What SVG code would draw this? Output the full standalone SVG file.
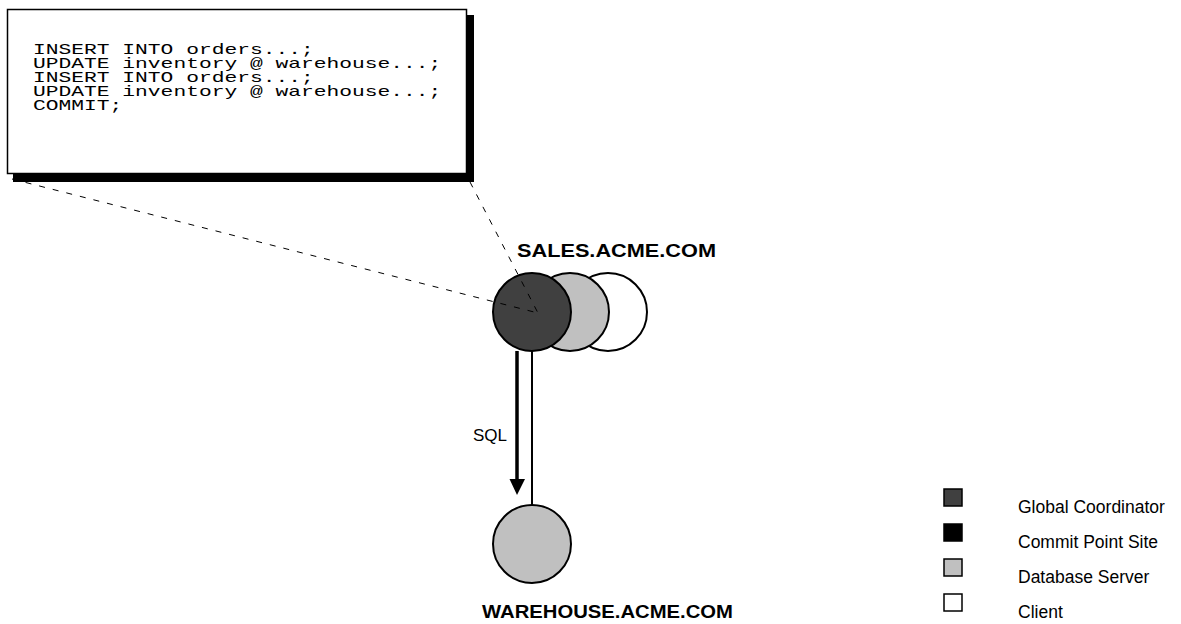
<svg xmlns="http://www.w3.org/2000/svg" width="1181" height="624" viewBox="0 0 1181 624">
<style>
.code{font-family:"Liberation Mono","Courier New",monospace;font-size:14px;fill:#000}
.lbl{font-family:"Liberation Sans",Arial,sans-serif;font-size:17.5px;fill:#000}
.sql{font-family:"Liberation Sans",Arial,sans-serif;font-size:17px;fill:#000}
.site{font-family:"Liberation Sans",Arial,sans-serif;font-size:18px;font-weight:bold;fill:#000}
.dash{stroke:#000;stroke-width:1;stroke-dasharray:6 8;fill:none}
.sw{stroke:#000;stroke-width:1.5}
.node{stroke:#000;stroke-width:2}
</style>
<g id="code-box">
<rect x="13" y="15" width="461" height="167" fill="#000"/>
<rect x="7.5" y="9.5" width="459" height="164" fill="#fff" stroke="#000" stroke-width="1.5"/>
<g transform="translate(33,0) scale(1.52,1)">
<text class="code" x="0" y="54">INSERT INTO orders...;</text>
<text class="code" x="0" y="68">UPDATE inventory @ warehouse...;</text>
<text class="code" x="0" y="82">INSERT INTO orders...;</text>
<text class="code" x="0" y="96">UPDATE inventory @ warehouse...;</text>
<text class="code" x="0" y="110">COMMIT;</text>
</g>
</g>
<g id="sales">
<circle class="node" cx="608" cy="312" r="39" fill="#fff"/>
<circle class="node" cx="570" cy="312" r="39" fill="#c0c0c0"/>
<circle class="node" cx="532" cy="312" r="39" fill="#404040"/>
<text class="site" x="517" y="257" textLength="199" lengthAdjust="spacingAndGlyphs">SALES.ACME.COM</text>
</g>
<g id="warehouse">
<circle class="node" cx="532" cy="544" r="39" fill="#c0c0c0"/>
<text class="site" x="482" y="618" textLength="251" lengthAdjust="spacingAndGlyphs">WAREHOUSE.ACME.COM</text>
</g>
<g id="connectors">
<line class="dash" x1="12" y1="179" x2="538" y2="313"/>
<line class="dash" x1="470" y1="182" x2="538" y2="313"/>
<line x1="517" y1="351" x2="517" y2="482" stroke="#000" stroke-width="3.5"/>
<polygon points="509.5,479 525,479 517,495" fill="#000"/>
<line x1="532" y1="351" x2="532" y2="505" stroke="#000" stroke-width="2"/>
<text class="sql" x="507" y="441" text-anchor="end">SQL</text>
</g>
<g id="legend">
<rect x="944" y="489" width="18" height="17" fill="#404040" class="sw"/>
<rect x="944" y="524" width="18" height="17" fill="#000" class="sw"/>
<rect x="944" y="559" width="18" height="17" fill="#c0c0c0" class="sw"/>
<rect x="944" y="594" width="18" height="17" fill="#fff" class="sw"/>
<text class="lbl" x="1018" y="513">Global Coordinator</text>
<text class="lbl" x="1018" y="548">Commit Point Site</text>
<text class="lbl" x="1018" y="583">Database Server</text>
<text class="lbl" x="1018" y="618">Client</text>
</g>
</svg>
